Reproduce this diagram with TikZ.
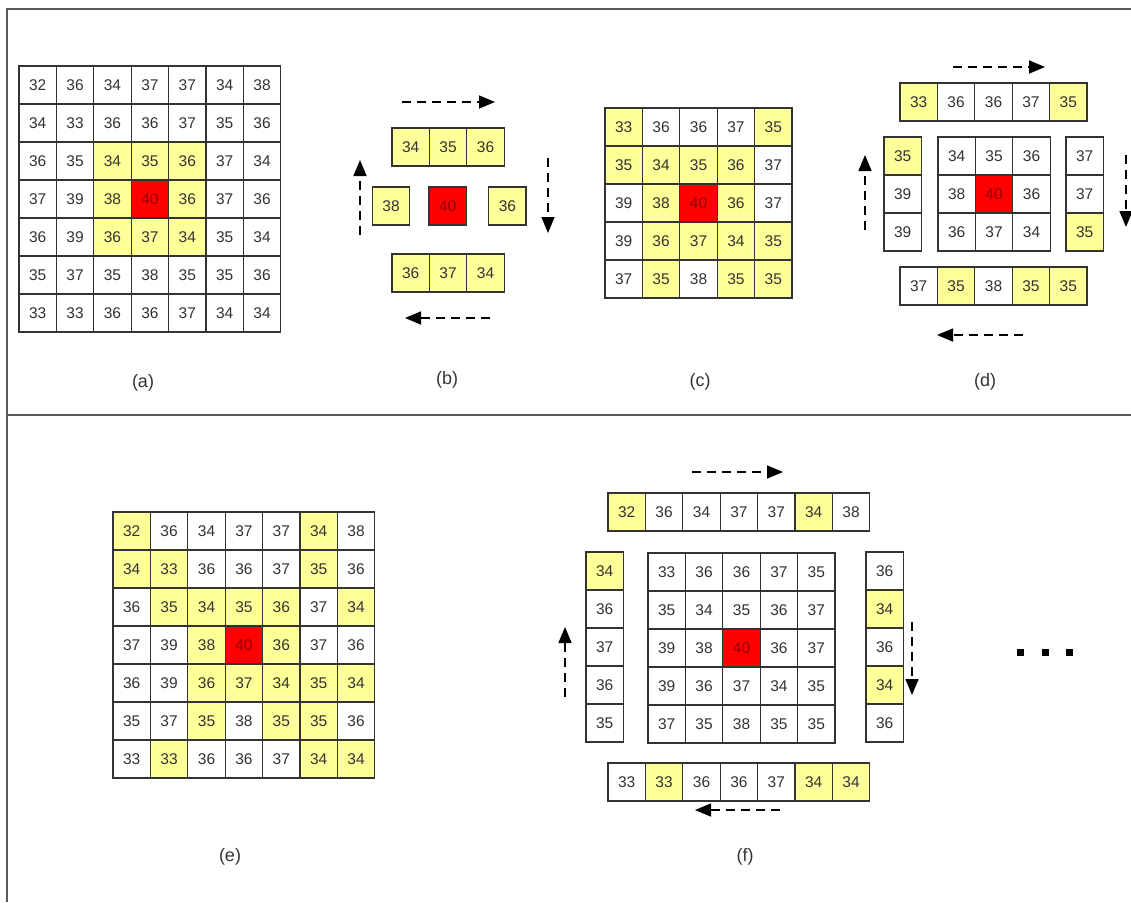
\documentclass[tikz,border=0pt]{standalone}
\usepackage{fontspec}
\setmainfont{Liberation Sans}
\usepackage{tikz}
\usetikzlibrary{arrows.meta,positioning}
\definecolor{hlyellow}{HTML}{FFFF99}
\definecolor{cellred}{HTML}{FF0000}
% one block of cells, rows top to bottom, entries value/style
\newcommand{\cellgrid}[2]{%
  \foreach \row [count=\j] in {#2}
    \foreach \v/\s [count=\i] in \row
      \node[\s] (#1-\j-\i) at ({(\i-0.5)*37.4},{(\j-0.5)*38}) {\v};}

\begin{document}
\begin{tikzpicture}[x=1pt,y=-1pt,
cell/.style={draw=black!80,line width=1.3pt,minimum width=37.4pt,
minimum height=38pt,inner sep=0pt,font=\fontsize{15.5}{17}\selectfont,
text=black!80},
wc/.style={cell,fill=white},
yc/.style={cell,fill=hlyellow},
rc/.style={cell,fill=cellred,text=red!55!black},
flow/.style={dash pattern=on 9pt off 6pt,line width=1.6pt,
-{Triangle[length=16pt,width=13pt]}},
sublabel/.style={font=\fontsize{18}{20}\selectfont,text=black!80},
frame/.style={draw=black!65,line width=1.8pt}
]
\useasboundingbox (0,0) rectangle (1131,902);

% frame
\draw[frame] (7,902) -- (7,9) -- (1131,9);
\draw[frame] (7,415) -- (1131,415);

% (a)
\begin{scope}[shift={(19,66)}]
\cellgrid{a}{{32/wc,36/wc,34/wc,37/wc,37/wc,34/wc,38/wc},
{34/wc,33/wc,36/wc,36/wc,37/wc,35/wc,36/wc},
{36/wc,35/wc,34/yc,35/yc,36/yc,37/wc,34/wc},
{37/wc,39/wc,38/yc,40/rc,36/yc,37/wc,36/wc},
{36/wc,39/wc,36/yc,37/yc,34/yc,35/wc,34/wc},
{35/wc,37/wc,35/wc,38/wc,35/wc,35/wc,36/wc},
{33/wc,33/wc,36/wc,36/wc,37/wc,34/wc,34/wc}}
\end{scope}

% (b)
\begin{scope}[shift={(392,128)}]
\cellgrid{bt}{{34/yc,35/yc,36/yc}}
\end{scope}
\node[yc] (bm1) at (391,206) {38};
\node[rc,right=18pt of bm1] (bm2) {40};
\node[yc,right=21pt of bm2] (bm3) {36};
\begin{scope}[shift={(392,254)}]
\cellgrid{bb}{{36/yc,37/yc,34/yc}}
\end{scope}

% (c)
\begin{scope}[shift={(605,108)}]
\cellgrid{c}{{33/yc,36/wc,36/wc,37/wc,35/yc},
{35/yc,34/yc,35/yc,36/yc,37/wc},
{39/wc,38/yc,40/rc,36/yc,37/wc},
{39/wc,36/yc,37/yc,34/yc,35/yc},
{37/wc,35/yc,38/wc,35/yc,35/yc}}
\end{scope}

% (d)
\begin{scope}[shift={(900,83)}]
\cellgrid{dt}{{33/yc,36/wc,36/wc,37/wc,35/yc}}
\end{scope}
\begin{scope}[shift={(884,137)}]
\cellgrid{dl}{{35/yc},{39/wc},{39/wc}}
\end{scope}
\begin{scope}[shift={(938,137)}]
\cellgrid{dc}{{34/wc,35/wc,36/wc},{38/wc,40/rc,36/wc},{36/wc,37/wc,34/wc}}
\end{scope}
\begin{scope}[shift={(1066,137)}]
\cellgrid{dr}{{37/wc},{37/wc},{35/yc}}
\end{scope}
\begin{scope}[shift={(900,267)}]
\cellgrid{db}{{37/wc,35/yc,38/wc,35/yc,35/yc}}
\end{scope}

% (e)
\begin{scope}[shift={(113,512)}]
\cellgrid{e}{{32/yc,36/wc,34/wc,37/wc,37/wc,34/yc,38/wc},
{34/yc,33/yc,36/wc,36/wc,37/wc,35/yc,36/wc},
{36/wc,35/yc,34/yc,35/yc,36/yc,37/wc,34/yc},
{37/wc,39/wc,38/yc,40/rc,36/yc,37/wc,36/wc},
{36/wc,39/wc,36/yc,37/yc,34/yc,35/yc,34/yc},
{35/wc,37/wc,35/yc,38/wc,35/yc,35/yc,36/wc},
{33/wc,33/yc,36/wc,36/wc,37/wc,34/yc,34/yc}}
\end{scope}

% (f)
\begin{scope}[shift={(608,493)}]
\cellgrid{ft}{{32/yc,36/wc,34/wc,37/wc,37/wc,34/yc,38/wc}}
\end{scope}
\begin{scope}[shift={(586,552)}]
\cellgrid{fl}{{34/yc},{36/wc},{37/wc},{36/wc},{35/wc}}
\end{scope}
\begin{scope}[shift={(648,553)}]
\cellgrid{fc}{{33/wc,36/wc,36/wc,37/wc,35/wc},
{35/wc,34/wc,35/wc,36/wc,37/wc},
{39/wc,38/wc,40/rc,36/wc,37/wc},
{39/wc,36/wc,37/wc,34/wc,35/wc},
{37/wc,35/wc,38/wc,35/wc,35/wc}}
\end{scope}
\begin{scope}[shift={(866,552)}]
\cellgrid{fr}{{36/wc},{34/yc},{36/wc},{34/yc},{36/wc}}
\end{scope}
\begin{scope}[shift={(608,763)}]
\cellgrid{fb}{{33/wc,33/yc,36/wc,36/wc,37/wc,34/yc,34/yc}}
\end{scope}

% scan direction arrows
\foreach \n/\sx/\sy/\ex/\ey in {bt/402/102/495/102,br/548/158/548/233,
bb/490/318/405/318,bl/360/235/360/160,
dt/953/67/1045/67,dr/1126/155/1126/227,
db/1023/335/937/335,dl/865/230/865/155,
ft/692/472/783/472,fr/912/622/912/695,
fb/780/810/695/810,fl/565/697/565/627}{
\coordinate (arr-\n-s) at (\sx,\sy);
\coordinate (arr-\n-e) at (\ex,\ey);
\draw[flow] (arr-\n-s) -- (arr-\n-e);
}

% more rings follow
\foreach \x in {1020,1045,1069}
  \fill (\x-3.5,648.5) rectangle ++(7,7);

% panel labels
\foreach \n/\x/\y in {a/143/383,b/447/380,c/700/382,d/985/382,
e/230/857,f/745/857}
  \node[sublabel] (lab-\n) at (\x,\y) {(\n)};
\end{tikzpicture}
\end{document}
